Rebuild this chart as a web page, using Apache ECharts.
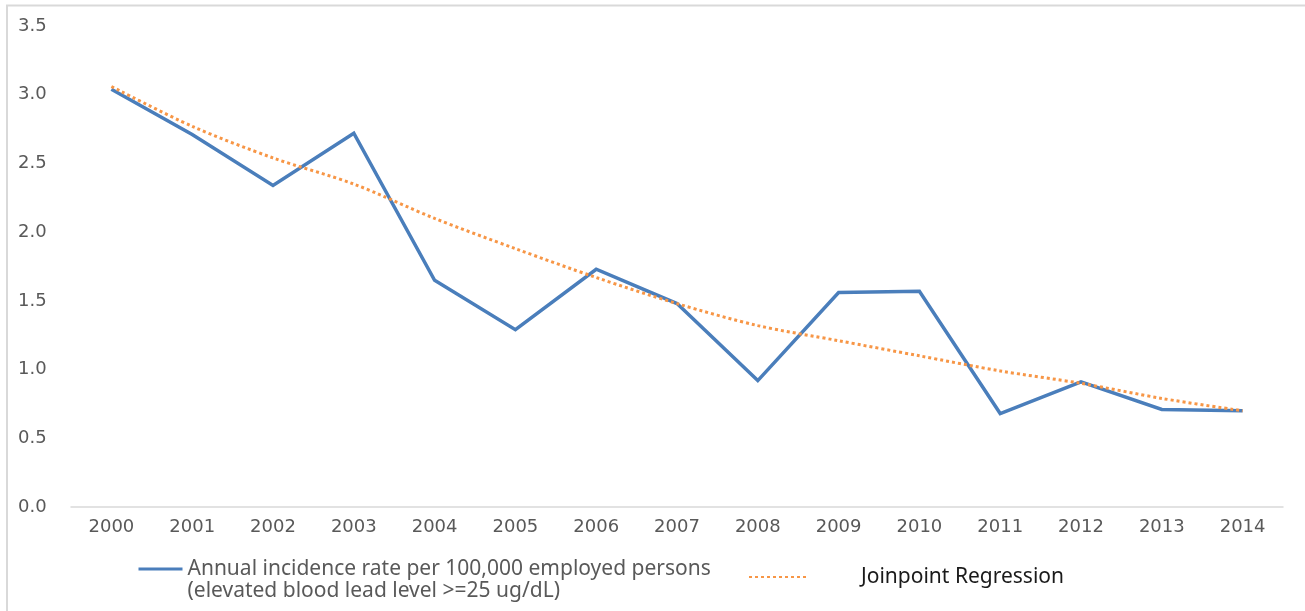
<!DOCTYPE html>
<html>
<head>
<meta charset="utf-8">
<script src="https://cdn.jsdelivr.net/npm/echarts@6/dist/echarts.min.js"></script>
<style>
  html, body { margin: 0; padding: 0; background: #fff; }
  #chart { width: 1305px; height: 611px; }
</style>
</head>
<body>
<div id="chart"></div>
<script>
var years = ['2000', '2001', '2002', '2003', '2004', '2005', '2006', '2007',
  '2008', '2009', '2010', '2011', '2012', '2013', '2014']
var incidenceRate = [3.04, 2.71, 2.34, 2.72, 1.65, 1.29, 1.73, 1.48,
  0.92, 1.56, 1.57, 0.68, 0.91, 0.71, 0.70]
var joinpoint = [3.06, 2.77, 2.54, 2.35, 2.10, 1.88, 1.67, 1.48,
  1.32, 1.21, 1.10, 0.99, 0.90, 0.79, 0.70]
var yTicks = { min: 0, max: 3.5, interval: 0.5 }

var rateName = 'Annual incidence rate per 100,000 employed persons\n(elevated blood lead level >=25 ug/dL)'
var fitName = 'Joinpoint Regression'

var myChart = echarts.init(document.getElementById('chart'))

var option = {
  animation: false,
  grid: { left: 71, right: 22, top: 26, bottom: 104, containLabel: false },
  graphic: [
    {
      type: 'polyline',
      shape: { points: [[7, 611], [7, 5.5], [1305, 5.5]] },
      style: { stroke: '#d9d9d9', lineWidth: 2, fill: null },
      silent: true
    }
  ],
  legend: [
    {
      data: [rateName],
      left: 137,
      top: 536,
      padding: 0,
      itemWidth: 44,
      itemHeight: 12,
      itemStyle: { opacity: 0 },
      lineStyle: { width: 3 },
      // empty first line so the icon sits level with the first text line
      formatter: function(name) {
        return ' \n' + name
      },
      textStyle: {
        fontFamily: 'Noto Sans, sans-serif',
        fontSize: 21,
        color: '#595959',
        lineHeight: 22
      }
    },
    {
      data: [fitName],
      left: 748,
      top: 566,
      padding: 0,
      itemWidth: 60,
      itemHeight: 12,
      itemStyle: { opacity: 0 },
      textStyle: {
        fontFamily: 'Noto Sans, sans-serif',
        fontSize: 21,
        color: '#1a1a1a',
        lineHeight: 22,
        padding: [0, 0, 0, 47]
      }
    }
  ],
  xAxis: {
    type: 'category',
    data: years,
    boundaryGap: true,
    axisLine: { lineStyle: { color: '#d9d9d9', width: 1.5 } },
    axisTick: { show: false },
    axisLabel: {
      color: '#595959',
      fontFamily: 'DejaVu Sans, sans-serif',
      fontSize: 18,
      margin: 11
    }
  },
  yAxis: {
    type: 'value',
    min: yTicks.min,
    max: yTicks.max,
    interval: yTicks.interval,
    axisLine: { show: false },
    axisTick: { show: false },
    splitLine: { show: false },
    axisLabel: {
      color: '#595959',
      fontFamily: 'DejaVu Sans, sans-serif',
      fontSize: 18,
      margin: 53,
      align: 'left',
      formatter: function(v) { return v.toFixed(1) }
    }
  },
  series: [
    {
      name: rateName,
      type: 'line',
      data: incidenceRate,
      showSymbol: false,
      symbol: 'none',
      lineStyle: { color: '#4a7ebb', width: 3.5, join: 'miter' },
      itemStyle: { color: '#4a7ebb' },
      z: 2
    },
    {
      name: fitName,
      type: 'line',
      data: joinpoint,
      smooth: 0.3,
      showSymbol: false,
      symbol: 'none',
      lineStyle: { color: '#f79646', width: 3, type: [3, 3] },
      itemStyle: { color: '#f79646' },
      z: 3
    }
  ]
}
myChart.setOption(option)
window.onresize = function() {
  myChart.resize()
}
</script>
</body>
</html>
